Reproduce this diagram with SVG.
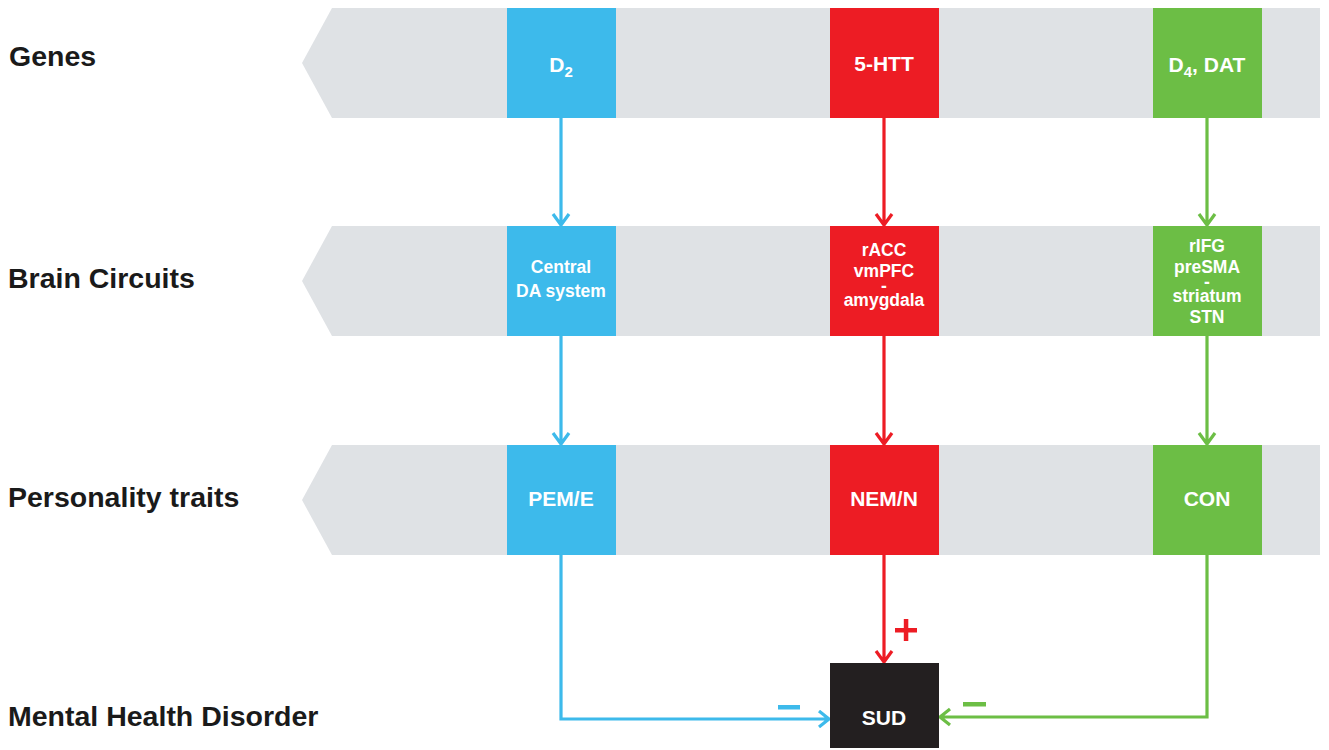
<svg xmlns="http://www.w3.org/2000/svg" width="1329" height="750" viewBox="0 0 1329 750">
<defs>
<style>
.band{fill:#dfe2e5}
.lbl{font-family:"Liberation Sans",Arial,sans-serif;font-weight:bold;font-size:28.5px;fill:#1a1a1a}
.bt{font-family:"Liberation Sans",Arial,sans-serif;font-weight:bold;font-size:21px;fill:#fff;text-anchor:middle}
.bts{font-family:"Liberation Sans",Arial,sans-serif;font-weight:bold;font-size:17.5px;fill:#fff;text-anchor:middle}
.blue{fill:#3dbaeb}.red{fill:#ed1c24}.green{fill:#6cbe45}
.ln{fill:none;stroke-width:3.2;stroke-linejoin:miter}
.lb{stroke:#3dbaeb}.lr{stroke:#ed1c24}.lg{stroke:#6cbe45}
</style>
</defs>
<g id="bands">
<polygon class="band" points="332,8 1320,8 1320,118 332,118 302,63"/>
<polygon class="band" points="332,226 1320,226 1320,336 332,336 302,281"/>
<polygon class="band" points="332,445 1320,445 1320,555 332,555 302,500"/>
</g>
<g id="labels">
<text class="lbl" x="9" y="66">Genes</text>
<text class="lbl" x="8" y="288">Brain Circuits</text>
<text class="lbl" x="8" y="507">Personality traits</text>
<text class="lbl" x="8" y="726">Mental Health Disorder</text>
</g>
<g id="connectors">
<path class="ln lb" d="M561,118 V225 M553,214 L561,225 L569,214"/>
<path class="ln lr" d="M884,118 V225 M876,214 L884,225 L892,214"/>
<path class="ln lg" d="M1207,118 V225 M1199,214 L1207,225 L1215,214"/>
<path class="ln lb" d="M561,336 V444 M553,433 L561,444 L569,433"/>
<path class="ln lr" d="M884,336 V444 M876,433 L884,444 L892,433"/>
<path class="ln lg" d="M1207,336 V444 M1199,433 L1207,444 L1215,433"/>
<path class="ln lr" d="M884,555 V662 M876,651 L884,662 L892,651"/>
<path class="ln lb" d="M561,555 V719 H829 M819,711 L829,719 L819,727"/>
<path class="ln lg" d="M1207,555 V717 H940 M950,709 L940,717 L950,725"/>
</g>
<g id="signs">
<rect class="blue" x="778" y="705" width="22" height="4.5"/>
<rect class="green" x="963" y="702" width="23" height="4.5"/>
<rect class="red" x="895" y="628" width="22" height="4.5"/>
<rect class="red" x="903.8" y="619" width="4.5" height="22"/>
</g>
<g id="node-d2"><rect class="blue" x="507" y="8" width="109" height="110"/><text class="bt" x="561" y="72">D<tspan font-size="15" dy="5">2</tspan></text></g>
<g id="node-5htt"><rect class="red" x="830" y="8" width="109" height="110"/><text class="bt" x="884" y="71">5-HTT</text></g>
<g id="node-d4dat"><rect class="green" x="1153" y="8" width="109" height="110"/><text class="bt" x="1207" y="72">D<tspan font-size="15" dy="5">4</tspan><tspan dy="-5">, DAT</tspan></text></g>
<g id="node-da"><rect class="blue" x="507" y="226" width="109" height="110"/><text class="bts" x="561" y="273">Central<tspan x="561" dy="24">DA system</tspan></text></g>
<g id="node-racc"><rect class="red" x="830" y="226" width="109" height="110"/><text class="bts" x="884" y="256">rACC<tspan x="884" dy="21">vmPFC</tspan><tspan x="884" dy="15">-</tspan><tspan x="884" dy="14">amygdala</tspan></text></g>
<g id="node-rifg"><rect class="green" x="1153" y="226" width="109" height="110"/><text class="bts" x="1207" y="252">rIFG<tspan x="1207" dy="21">preSMA</tspan><tspan x="1207" dy="15">-</tspan><tspan x="1207" dy="14">striatum</tspan><tspan x="1207" dy="21">STN</tspan></text></g>
<g id="node-pem"><rect class="blue" x="507" y="445" width="109" height="110"/><text class="bt" x="561" y="506">PEM/E</text></g>
<g id="node-nem"><rect class="red" x="830" y="445" width="109" height="110"/><text class="bt" x="884" y="506">NEM/N</text></g>
<g id="node-con"><rect class="green" x="1153" y="445" width="109" height="110"/><text class="bt" x="1207" y="506">CON</text></g>
<g id="node-sud"><rect x="830" y="663" width="109" height="85" fill="#231f20"/><text class="bt" x="884" y="725">SUD</text></g>
</svg>
